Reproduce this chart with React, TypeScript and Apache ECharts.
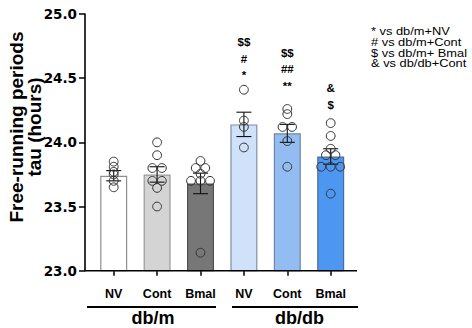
import React, { useEffect, useRef } from "react";
import * as echarts from "echarts";

// ---- data ----
const categories = ["NV", "Cont", "Bmal", "NV", "Cont", "Bmal"];
const groupLabels = ["db/m", "db/db"];
const yTitle = ["Free-running periods", "tau (hours)"];
const means = [23.74, 23.75, 23.68, 24.14, 24.07, 23.89];
const sems = [0.04, 0.06, 0.08, 0.095, 0.07, 0.06];

const ptsDbmNV = [23.85, 23.81, 23.77, 23.75, 23.7, 23.65];
const ptsDbmCont = [24.0, 23.9, 23.8, 23.8, 23.7, 23.7, 23.645, 23.5];
const ptsDbmBmal = [23.855, 23.8, 23.8, 23.755, 23.7, 23.7, 23.7, 23.14];
const ptsDbdbNV = [24.41, 24.17, 24.12, 23.96];
const ptsDbdbCont = [24.26, 24.22, 24.12, 24.12, 24.01, 23.81];
const ptsDbdbBmal = [24.15, 24.05, 23.95, 23.9, 23.9, 23.81, 23.81, 23.81, 23.6];
const allPoints = [ptsDbmNV, ptsDbmCont, ptsDbmBmal, ptsDbdbNV, ptsDbdbCont, ptsDbdbBmal];

// significance marks (bottom to top) and the value of the lowest mark
const sigMarks = [[], [], [], ["*", "#", "$$"], ["**", "##", "$$"], ["$", "&"]];
const sigBase = [null, null, null, 24.524, 24.442, 24.294];

const legendLines = ["* vs db/m+NV", "# vs db/m+Cont", "$ vs db/m+ Bmal", "& vs db/db+Cont"];
const yTicks = { min: 23, max: 25, interval: 0.5 };

// ---- styles ----
const FONT = '"Liberation Sans", Arial, Helvetica, sans-serif';
const WIDE = '"DejaVu Sans", "Liberation Sans", sans-serif';
const barFills = ["#ffffff", "#d4d4d4", "#777777", "#cfe2fa", "#92bcf2", "#4d97f3"];
const barBorders = ["#8f8f8f", "#9a9a9a", "#505050", "#7d8ea6", "#6f85a3", "#4f6d95"];

function pointData() {
  const out: number[][] = [];
  allPoints.forEach((arr, ci) => {
    const counts: Record<string, number> = {};
    arr.forEach((v) => (counts[String(v)] = (counts[String(v)] || 0) + 1));
    const seen: Record<string, number> = {};
    arr.forEach((v) => {
      const k = String(v);
      const n = counts[k];
      const idx = seen[k] || 0;
      seen[k] = idx + 1;
      out.push([ci, v, (idx - (n - 1) / 2) * 9.5]);
    });
  });
  return out;
}

export default function App() {
  const ref = useRef<HTMLDivElement>(null);
  useEffect(() => {
    if (!ref.current) return;
    const chart = echarts.init(ref.current, null, { renderer: "svg" });
    const option: any = {
      animation: false,
      backgroundColor: "#fff",
      grid: { left: 92, top: 14, width: 260.4, height: 256.7, containLabel: false },
      xAxis: {
        type: "category",
        data: categories,
        axisLine: { show: false },
        axisTick: { show: true, alignWithLabel: true, length: 5, lineStyle: { color: "#000", width: 1.5 } },
        axisLabel: { color: "#000", fontWeight: "bold", fontSize: 12.5, fontFamily: FONT, margin: 17 },
        splitLine: { show: false },
      },
      yAxis: {
        type: "value",
        min: yTicks.min,
        max: yTicks.max,
        interval: yTicks.interval,
        offset: 7,
        axisLine: { show: true, lineStyle: { color: "#000", width: 1.6 } },
        axisTick: { show: true, length: 6, lineStyle: { color: "#000", width: 1.5 } },
        axisLabel: {
          color: "#000",
          fontWeight: "bold",
          fontSize: 13.5,
          fontFamily: WIDE,
          margin: 8,
          formatter: (v: number) => v.toFixed(1),
        },
        splitLine: { show: false },
      },
      series: [
        {
          type: "bar",
          barWidth: 27,
          data: means.map((m, i) => ({
            value: m,
            itemStyle: { color: barFills[i], borderColor: barBorders[i], borderWidth: 1.2 },
          })),
          z: 1,
        },
        {
          type: "custom",
          z: 3,
          data: means.map((m, i) => [i, m, sems[i]]),
          renderItem: (params: any, api: any) => {
            const i = api.value(0);
            const m = api.value(1);
            const s = api.value(2);
            const top = api.coord([i, m + s]);
            const bot = api.coord([i, m - s]);
            const hw = 7.5;
            const st = { stroke: "#111", lineWidth: 1.1 };
            return {
              type: "group",
              children: [
                { type: "line", shape: { x1: top[0], y1: top[1], x2: bot[0], y2: bot[1] }, style: st },
                { type: "line", shape: { x1: top[0] - hw, y1: top[1], x2: top[0] + hw, y2: top[1] }, style: st },
                { type: "line", shape: { x1: bot[0] - hw, y1: bot[1], x2: bot[0] + hw, y2: bot[1] }, style: st },
              ],
            };
          },
        },
        {
          type: "custom",
          z: 4,
          data: pointData(),
          renderItem: (params: any, api: any) => {
            const p = api.coord([api.value(0), api.value(1)]);
            return {
              type: "circle",
              shape: { cx: p[0] + api.value(2), cy: p[1], r: 4.4 },
              style: { fill: "none", stroke: "#333", lineWidth: 1 },
            };
          },
        },
        {
          type: "custom",
          z: 5,
          data: sigBase.map((b, i) => [i, b == null ? yTicks.min : b]),
          renderItem: (params: any, api: any) => {
            const i = params.dataIndex;
            const marks = sigMarks[i];
            if (!marks.length) return { type: "group", children: [] };
            const p = api.coord([api.value(0), api.value(1)]);
            return {
              type: "group",
              children: marks.map((t: string, k: number) => ({
                type: "text",
                x: p[0],
                y: p[1] - k * 16.5,
                style: {
                  text: t,
                  align: "center",
                  verticalAlign: "middle",
                  fontSize: 11.5,
                  fontWeight: "bold",
                  fontFamily: FONT,
                  fill: "#000",
                },
              })),
            };
          },
        },
      ],
      graphic: [
        { type: "line", shape: { x1: 85, y1: 270.7, x2: 357, y2: 270.7 }, style: { stroke: "#000", lineWidth: 1.6 }, z: 10 },
        { type: "line", shape: { x1: 87, y1: 307, x2: 216, y2: 307 }, style: { stroke: "#000", lineWidth: 2 } },
        { type: "line", shape: { x1: 232, y1: 307, x2: 358, y2: 307 }, style: { stroke: "#000", lineWidth: 2 } },
        {
          type: "text",
          x: 25.5,
          y: 127,
          rotation: Math.PI / 2,
          style: {
            text: yTitle.join("\n"),
            align: "center",
            verticalAlign: "middle",
            fontSize: 19,
            lineHeight: 18.5,
            fontWeight: "bold",
            fontFamily: FONT,
            fill: "#000",
          },
        },
        {
          type: "text",
          x: 153,
          y: 318,
          style: { text: groupLabels[0], align: "center", verticalAlign: "middle", fontSize: 18, fontWeight: "bold", fontFamily: FONT, fill: "#000" },
        },
        {
          type: "text",
          x: 299.5,
          y: 318,
          style: { text: groupLabels[1], align: "center", verticalAlign: "middle", fontSize: 18, fontWeight: "bold", fontFamily: FONT, fill: "#000" },
        },
        {
          type: "text",
          x: 371,
          y: 26,
          scaleX: 1.19,
          style: { text: legendLines.join("\n"), fontSize: 10.8, lineHeight: 10.8, fontFamily: FONT, fill: "#000", verticalAlign: "top" },
        },
      ],
    };
    chart.setOption(option);
    return () => chart.dispose();
  }, []);
  return <div ref={ref} style={{ position: "fixed", left: 0, top: 0, width: 472, height: 328 }} />;
}
